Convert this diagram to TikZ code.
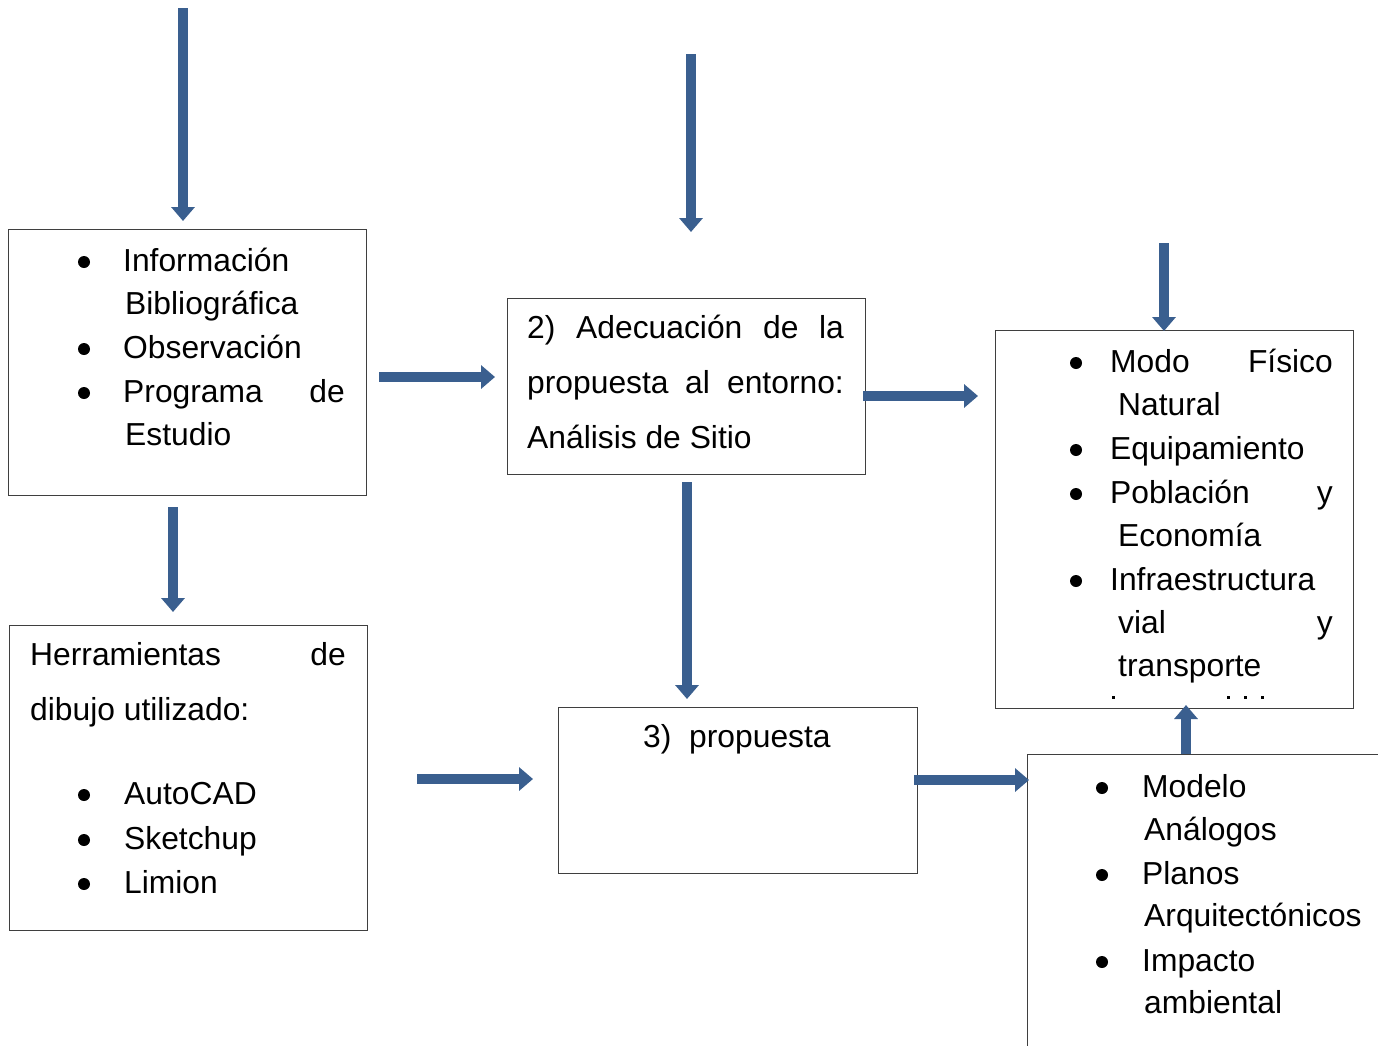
\documentclass[tikz,border=0pt]{standalone}
\usepackage{fontspec}
\setmainfont{Liberation Sans}
\usetikzlibrary{arrows.meta}
\definecolor{arrowblue}{HTML}{3A5F8F}
\definecolor{boxline}{HTML}{3F3F3F}
\begin{document}
\begin{tikzpicture}[x=1pt,y=-1pt,
  box/.style={draw=boxline, line width=1.3pt, fill=none, inner sep=0pt, anchor=north west, rectangle},
  blockarrow/.style={draw=arrowblue, line width=10.5pt, -{Triangle[width=23pt,length=14pt]}},
  txt/.style={anchor=base west, inner sep=0pt, font=\fontsize{31.8}{38}\selectfont},
  txtr/.style={anchor=base east, inner sep=0pt, font=\fontsize{31.8}{38}\selectfont},
  bul/.style={circle, fill=black, draw=none, inner sep=0pt, minimum size=12pt, yshift=9pt},
  dotmark/.style={fill=black, draw=none}]
\clip (0,0) rectangle (1378,1045);
\fill[white] (0,0) rectangle (1378,1045);

% boxes
\node[box, minimum width=358pt, minimum height=266pt] (b1) at (8,229) {};
\node[box, minimum width=358pt, minimum height=176pt] (b2) at (507,298) {};
\node[box, minimum width=358pt, minimum height=378pt] (b3) at (995,330) {};
\node[box, minimum width=358pt, minimum height=305pt] (b4) at (9,625) {};
\node[box, minimum width=359pt, minimum height=166pt] (b5) at (558,707) {};
\node[box, minimum width=420pt, minimum height=400pt] (b6) at (1027,754) {};

% box 1 text
\node[bul] (b1u1) at (84,271) {};
\node[txt] (b1t1) at (123,271) {Información};
\node[txt] (b1t2) at (125,314) {Bibliográfica};
\node[bul] (b1u2) at (84,358) {};
\node[txt] (b1t3) at (123,358) {Observación};
\node[bul] (b1u3) at (84,402) {};
\node[txt] (b1t4) at (123,402) {Programa};
\node[txtr] (b1t5) at (345,402) {de};
\node[txt] (b1t6) at (125,445) {Estudio};

% box 2 text
\node[txt] (b2t1) at (527,338) {2)};
\node[txt] (b2t2) at (576,338) {Adecuación};
\node[txt] (b2t3) at (763,338) {de};
\node[txtr] (b2t4) at (844,338) {la};
\node[txt] (b2t5) at (527,393) {propuesta};
\node[txt] (b2t6) at (685,393) {al};
\node[txtr] (b2t7) at (844,393) {entorno:};
\node[txt] (b2t8) at (527,448) {Análisis de Sitio};

% box 3 text
\node[bul] (b3u1) at (1076,372) {};
\node[txt] (b3t1) at (1110,372) {Modo};
\node[txtr] (b3t2) at (1333,372) {Físico};
\node[txt] (b3t3) at (1118,415) {Natural};
\node[bul] (b3u2) at (1076,459) {};
\node[txt] (b3t4) at (1110,459) {Equipamiento};
\node[bul] (b3u3) at (1076,503) {};
\node[txt] (b3t5) at (1110,503) {Población};
\node[txtr] (b3t6) at (1333,503) {y};
\node[txt] (b3t7) at (1118,546) {Economía};
\node[bul] (b3u4) at (1076,590) {};
\node[txt] (b3t8) at (1110,590) {Infraestructura};
\node[txt] (b3t9) at (1118,633) {vial};
\node[txtr] (b3t10) at (1333,633) {y};
\node[txt] (b3t11) at (1118,676) {transporte};
\fill[dotmark] (1112,696) rectangle (1114.5,698.5);
\fill[dotmark] (1227,696) rectangle (1229.5,698.5);
\fill[dotmark] (1244,696) rectangle (1246.5,698.5);
\fill[dotmark] (1261,696) rectangle (1263.5,698.5);

% box 4 text
\node[txt] (b4t1) at (30,665) {Herramientas};
\node[txtr] (b4t2) at (346,665) {de};
\node[txt] (b4t3) at (30,720) {dibujo utilizado:};
\node[bul] (b4u1) at (84,804) {};
\node[txt] (b4t4) at (124,804) {AutoCAD};
\node[bul] (b4u2) at (84,849) {};
\node[txt] (b4t5) at (124,849) {Sketchup};
\node[bul] (b4u3) at (84,893) {};
\node[txt] (b4t6) at (124,893) {Limion};

% box 5 text
\node[txt] (b5t1) at (643,747) {3)};
\node[txt] (b5t2) at (689,747) {propuesta};

% box 6 text
\node[bul] (b6u1) at (1102,797) {};
\node[txt] (b6t1) at (1142,797) {Modelo};
\node[txt] (b6t2) at (1144,840) {Análogos};
\node[bul] (b6u2) at (1102,884) {};
\node[txt] (b6t3) at (1142,884) {Planos};
\node[txt] (b6t4) at (1144,926) {Arquitectónicos};
\node[bul] (b6u3) at (1102,971) {};
\node[txt] (b6t5) at (1142,971) {Impacto};
\node[txt] (b6t6) at (1144,1013) {ambiental};

% arrows
\coordinate (a1s) at (183,8);    \coordinate (a1e) at (183,221);
\coordinate (a2s) at (691,54);   \coordinate (a2e) at (691,232);
\coordinate (a3s) at (1164,243); \coordinate (a3e) at (1164,331);
\coordinate (a4s) at (379,377);  \coordinate (a4e) at (495,377);
\coordinate (a5s) at (863,396);  \coordinate (a5e) at (978,396);
\coordinate (a6s) at (173,507);  \coordinate (a6e) at (173,612);
\coordinate (a7s) at (687,482);  \coordinate (a7e) at (687,699);
\coordinate (a8s) at (417,779);  \coordinate (a8e) at (533,779);
\coordinate (a9s) at (914,780);  \coordinate (a9e) at (1029,780);
\coordinate (a10s) at (1186,754); \coordinate (a10e) at (1186,705);

\draw[blockarrow] (a1s) -- (a1e);
\draw[blockarrow] (a2s) -- (a2e);
\draw[blockarrow] (a3s) -- (a3e);
\draw[blockarrow] (a4s) -- (a4e);
\draw[blockarrow] (a5s) -- (a5e);
\draw[blockarrow] (a6s) -- (a6e);
\draw[blockarrow] (a7s) -- (a7e);
\draw[blockarrow] (a8s) -- (a8e);
\draw[blockarrow] (a9s) -- (a9e);
\draw[blockarrow] (a10s) -- (a10e);
\end{tikzpicture}
\end{document}
